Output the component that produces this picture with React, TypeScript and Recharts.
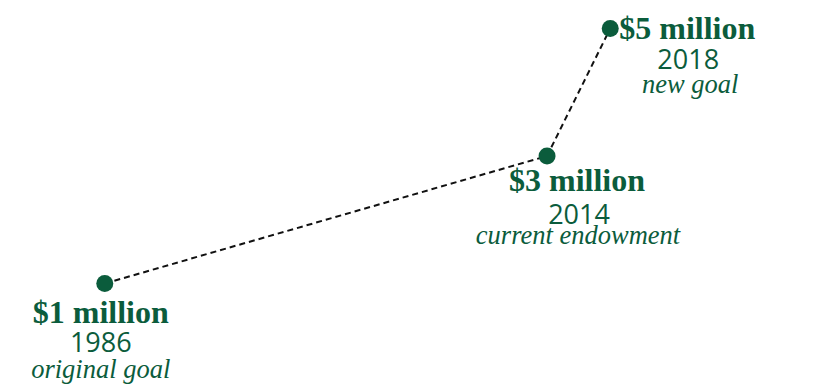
import React from "react";
import { LineChart, Line, XAxis, YAxis } from "recharts";

const years = [1986, 2014, 2018];
const amounts = [1, 3, 5];
const amountLabels = ["$1 million", "$3 million", "$5 million"];
const notes = ["original goal", "current endowment", "new goal"];

const data = years.map((year, i) => ({
  year,
  amount: amounts[i],
  label: amountLabels[i],
  note: notes[i],
}));

const GREEN = "#0b5c3c";

// where each label block sits relative to its point
const placements = [
  { anchor: "middle", bold: [-4, 39], year: [-4, 68], note: [-4, 94] },
  { anchor: "middle", bold: [30, 35], year: [32, 68], note: [31, 88] },
  { anchor: "start", bold: [9, 10], year: [78, 40], note: [80, 64] },
];

function MilestoneDot(props: any) {
  const { cx, cy, index, payload } = props;
  const p = placements[index];
  return (
    <g key={`m-${index}`}>
      <circle cx={cx} cy={cy} r={8.5} fill={GREEN} />
      <text
        x={cx + p.bold[0]}
        y={cy + p.bold[1]}
        textAnchor={p.anchor}
        fill={GREEN}
        fontFamily="Liberation Serif"
        fontWeight="bold"
        fontSize={32}
      >
        {payload.label}
      </text>
      <text
        x={cx + p.year[0]}
        y={cy + p.year[1]}
        textAnchor="middle"
        fill={GREEN}
        fontFamily="Open Sans"
        fontSize={27}
      >
        {payload.year}
      </text>
      <text
        x={cx + p.note[0]}
        y={cy + p.note[1]}
        textAnchor="middle"
        fill={GREEN}
        fontFamily="Liberation Serif"
        fontStyle="italic"
        fontSize={26.5}
      >
        {payload.note}
      </text>
    </g>
  );
}

export default function App() {
  return (
    <div style={{ width: 814, height: 386, background: "#fff" }}>
      <style>{"body{margin:0}"}</style>
      <LineChart
        width={814}
        height={386}
        data={data}
        margin={{ top: 3, right: 109, bottom: 77, left: 10 }}
      >
        <XAxis dataKey="year" type="number" domain={[1980, 2024]} hide />
        <YAxis type="number" domain={[0.6, 5.4]} hide />
        <Line
          dataKey="amount"
          stroke="#111"
          strokeWidth={2}
          strokeDasharray="6 4"
          dot={(props: any) => <MilestoneDot {...props} />}
          activeDot={false}
          isAnimationActive={false}
        />
      </LineChart>
    </div>
  );
}
